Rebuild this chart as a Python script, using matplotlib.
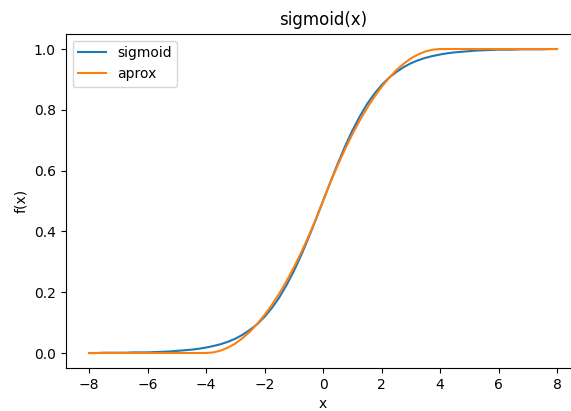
import matplotlib
matplotlib.use("Agg")
import matplotlib.pyplot as plt

# x grid and values
x_vals = [
    -8.0, -7.75, -7.5, -7.25, -7.0, -6.75, -6.5, -6.25,
    -6.0, -5.75, -5.5, -5.25, -5.0, -4.75, -4.5, -4.25,
    -4.0, -3.75, -3.5, -3.25, -3.0, -2.75, -2.5, -2.25,
    -2.0, -1.75, -1.5, -1.25, -1.0, -0.75, -0.5, -0.25,
    0.0,
    0.25, 0.5, 0.75, 1.0, 1.25, 1.5, 1.75, 2.0,
    2.25, 2.5, 2.75, 3.0, 3.25, 3.5, 3.75, 4.0,
    4.25, 4.5, 4.75, 5.0, 5.25, 5.5, 5.75, 6.0,
    6.25, 6.5, 6.75, 7.0, 7.25, 7.5, 7.75, 8.0,
]

sigmoid_vals = [
    0.000, 0.000, 0.001, 0.001, 0.001, 0.001, 0.002, 0.002,
    0.002, 0.003, 0.004, 0.005, 0.007, 0.009, 0.011, 0.014,
    0.018, 0.023, 0.029, 0.037, 0.047, 0.060, 0.076, 0.095,
    0.119, 0.148, 0.182, 0.223, 0.269, 0.321, 0.378, 0.438,
    0.500,
    0.562, 0.622, 0.679, 0.731, 0.777, 0.818, 0.852, 0.881,
    0.905, 0.924, 0.940, 0.953, 0.963, 0.971, 0.977, 0.982,
    0.986, 0.989, 0.991, 0.993, 0.995, 0.996, 0.997, 0.998,
    0.998, 0.998, 0.999, 0.999, 0.999, 0.999, 1.000, 1.000,
]

aprox_vals = [
    0.000, 0.000, 0.000, 0.000, 0.000, 0.000, 0.000, 0.000,
    0.000, 0.000, 0.000, 0.000, 0.000, 0.000, 0.000, 0.000,
    0.000, 0.002, 0.008, 0.018, 0.031, 0.049, 0.070, 0.096,
    0.125, 0.158, 0.195, 0.236, 0.281, 0.330, 0.383, 0.439,
    0.500,
    0.561, 0.617, 0.670, 0.719, 0.764, 0.805, 0.842, 0.875,
    0.904, 0.930, 0.951, 0.969, 0.982, 0.992, 0.998, 1.000,
    1.000, 1.000, 1.000, 1.000, 1.000, 1.000, 1.000, 1.000,
    1.000, 1.000, 1.000, 1.000, 1.000, 1.000, 1.000, 1.000,
]

fig = plt.figure(figsize=(5.71, 4.11), dpi=100)
# axes run a bit past the right edge, as in the cropped reference
ax = fig.add_axes([0.1149, 0.1041, 0.9016, 0.8136])

ax.plot(x_vals, sigmoid_vals, label="sigmoid")
ax.plot(x_vals, aprox_vals, label="aprox")

ax.set_title("sigmoid(x)")
ax.set_xlabel("x")
ax.set_ylabel("f(x)")
ax.set_xticks([-8, -6, -4, -2, 0, 2, 4, 6, 8])
ax.legend(loc="upper left")

fig.savefig("out.png", dpi=100)
plt.close(fig)
